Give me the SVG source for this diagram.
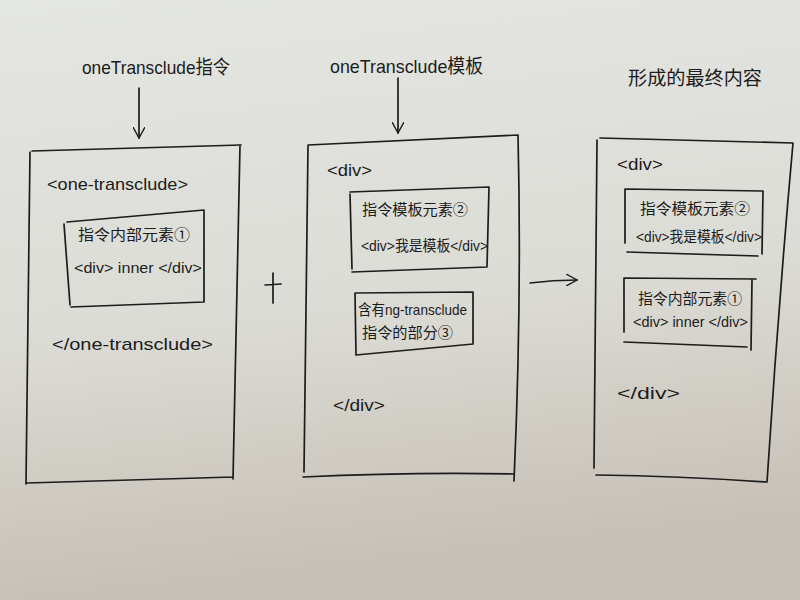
<svg xmlns="http://www.w3.org/2000/svg" width="800" height="600" viewBox="0 0 800 600">
<defs>
<linearGradient id="paper" x1="0" y1="0" x2="0.15" y2="1">
<stop offset="0" stop-color="#e4e6e2"/>
<stop offset="0.55" stop-color="#dcdcd6"/>
<stop offset="1" stop-color="#c6bfb5"/>
</linearGradient>
<marker id="arr" viewBox="0 0 12 12" refX="11" refY="6" markerWidth="12" markerHeight="12" markerUnits="userSpaceOnUse" orient="auto">
<path d="M0,0 L11,6 L0,12" fill="none" stroke="#1c1c1c" stroke-width="1.4"/>
</marker>
</defs>
<style>
.pen{fill:none;stroke:#1c1c1c;stroke-width:1.7;stroke-linejoin:round;stroke-linecap:round}
.t{font-family:"Liberation Sans","Noto Sans CJK SC",sans-serif;fill:#1c1c1c;font-size:17px}
.h{font-size:19px}
.s{font-size:15px}
</style>
<rect width="800" height="600" fill="url(#paper)"/>

<g id="left-column">
<text class="t h" x="82" y="74" textLength="148" lengthAdjust="spacingAndGlyphs">oneTransclude指令</text>
<g id="directive-box">
<path class="pen" d="M32,151 L241,145 M30,152 L26,484 M27,483 Q130,480 233,477 M240,145 L233,479"/>
<text class="t" x="47" y="190" textLength="141" lengthAdjust="spacingAndGlyphs">&lt;one-transclude&gt;</text>
<text class="t" x="52" y="350" textLength="161" lengthAdjust="spacingAndGlyphs">&lt;/one-transclude&gt;</text>
</g>
<g id="directive-inner">
<path class="pen" d="M67,222 L204,210 M64,224 L70,305 M71,307 L204,302 M204,210 L204,302"/>
<text class="t s" x="78" y="240" textLength="112" lengthAdjust="spacingAndGlyphs">指令内部元素①</text>
<text class="t s" x="74" y="273" textLength="128" lengthAdjust="spacingAndGlyphs">&lt;div&gt; inner &lt;/div&gt;</text>
</g>
</g>

<g id="plus">
<path class="pen" d="M273,273 L273,303 M265,285 L281,284"/>
</g>

<g id="middle-column">
<text class="t h" x="330" y="73" textLength="153" lengthAdjust="spacingAndGlyphs">oneTransclude模板</text>
<g id="template-box">
<path class="pen" d="M308,145 L518,135 M308,146 L304,472 M303,477 Q410,472 514,474 M518,135 Q522,300 514,481"/>
<text class="t" x="327" y="176" textLength="45" lengthAdjust="spacingAndGlyphs">&lt;div&gt;</text>
<text class="t" x="333" y="411" textLength="52" lengthAdjust="spacingAndGlyphs">&lt;/div&gt;</text>
</g>
<g id="template-element">
<path class="pen" d="M350,192 L489,187 M350,194 L352,269 M352,272 L487,267 M489,187 L487,267"/>
<text class="t s" x="362" y="215" textLength="106" lengthAdjust="spacingAndGlyphs">指令模板元素②</text>
<text class="t s" x="361" y="251" textLength="127" lengthAdjust="spacingAndGlyphs">&lt;div&gt;我是模板&lt;/div&gt;</text>
</g>
<g id="transclude-part">
<path class="pen" d="M355,293 L473,292 M355,293 L356,355 M356,355 L473,344 M473,292 L473,344"/>
<text class="t s" x="358" y="315" textLength="109" lengthAdjust="spacingAndGlyphs">含有ng-transclude</text>
<text class="t s" x="362" y="338" textLength="91" lengthAdjust="spacingAndGlyphs">指令的部分③</text>
</g>
</g>

<g id="right-column">
<text class="t h" x="628" y="85" textLength="134" lengthAdjust="spacingAndGlyphs">形成的最终内容</text>
<g id="result-box">
<path class="pen" d="M600,138 L793,143 M597,140 L594,468 M596,475 Q680,476 767,482 M793,143 Q778,310 767,482"/>
<text class="t" x="617" y="170" textLength="46" lengthAdjust="spacingAndGlyphs">&lt;div&gt;</text>
<text class="t" x="617" y="399" textLength="63" lengthAdjust="spacingAndGlyphs">&lt;/div&gt;</text>
</g>
<g id="result-template">
<path class="pen" d="M625,189 L763,191 M625,189 L625,243 M627,252 L758,256 M763,191 L762,254"/>
<text class="t s" x="640" y="214" textLength="110" lengthAdjust="spacingAndGlyphs">指令模板元素②</text>
<text class="t s" x="636" y="242" textLength="126" lengthAdjust="spacingAndGlyphs">&lt;div&gt;我是模板&lt;/div&gt;</text>
</g>
<g id="result-inner">
<path class="pen" d="M624,278 L756,279 M624,278 L624,332 M624,342 L747,347 M752,280 L751,350"/>
<text class="t s" x="638" y="304" textLength="104" lengthAdjust="spacingAndGlyphs">指令内部元素①</text>
<text class="t s" x="633" y="327" textLength="115" lengthAdjust="spacingAndGlyphs">&lt;div&gt; inner &lt;/div&gt;</text>
</g>
</g>

<g id="connectors">
<path class="pen" d="M139,88 L139,138" marker-end="url(#arr)"/>
<path class="pen" d="M398,78 L398,133" marker-end="url(#arr)"/>
<path class="pen" d="M530,283 Q553,280 577,280" marker-end="url(#arr)"/>
</g>
</svg>
